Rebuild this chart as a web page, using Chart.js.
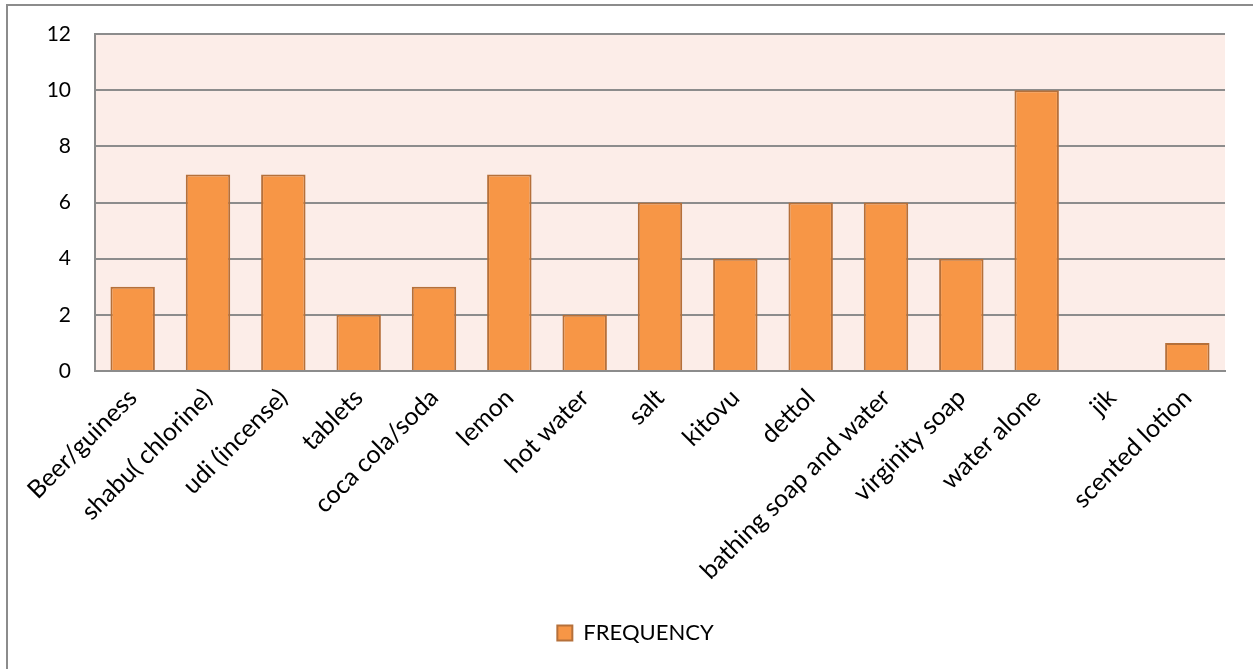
<!DOCTYPE html>
<html>
<head>
<meta charset="utf-8">
<script src="https://cdn.jsdelivr.net/npm/chart.js@4.4.1/dist/chart.umd.min.js"></script>
<style>
  html, body { margin: 0; padding: 0; background: #fff; }
  #wrap { position: relative; width: 1253px; height: 669px; overflow: hidden; }
  #frame { position: absolute; left: 6px; top: 4px; width: 1260px; height: 700px; border: 2px solid #8c8c8c; box-sizing: border-box; }
  canvas { position: absolute; left: 0; top: 0; }
</style>
</head>
<body>
<div id="wrap">
  <div id="frame"></div>
  <canvas id="c" width="1253" height="669"></canvas>
</div>
<script>
const categories = ["Beer/guiness", "shabu( chlorine)", "udi (incense)", "tablets", "coca cola/soda", "lemon", "hot water", "salt", "kitovu", "dettol", "bathing soap and water", "virginity soap", "water alone", "jik", "scented lotion"];
const frequency = [3, 7, 7, 2, 3, 7, 2, 6, 4, 6, 6, 4, 10, 0, 1];
const seriesName = "FREQUENCY";
const yMin = 0, yMax = 12, yStep = 2;

const plotBg = {
  id: 'plotBg',
  beforeDraw(chart) {
    const { ctx, chartArea: a } = chart;
    ctx.save();
    ctx.fillStyle = '#FCEDE8';
    ctx.fillRect(a.left, a.top, a.right - a.left, a.bottom - a.top);
    ctx.restore();
  }
};

const legendShift = {
  id: 'legendShift',
  afterLayout(chart) {
    const lg = chart.legend;
    if (lg) { lg.left += 23; lg.right += 23; }
  }
};

const FONT = "Lato, 'Liberation Sans', sans-serif";

new Chart(document.getElementById('c'), {
  type: 'bar',
  data: {
    labels: categories,
    datasets: [{
      label: seriesName,
      data: frequency,
      backgroundColor: '#F79646',
      borderColor: '#B5703A',
      borderWidth: 2,
      categoryPercentage: 1.0,
      barPercentage: 0.59
    }]
  },
  options: {
    responsive: false,
    animation: false,
    devicePixelRatio: 1,
    layout: { padding: { left: 0, right: 28, top: 34, bottom: 15 } },
    plugins: {
      legend: {
        position: 'bottom',
        labels: {
          color: '#000',
          font: { family: FONT, size: 22 },
          boxWidth: 15, boxHeight: 15,
          padding: 10
        }
      },
      tooltip: { enabled: false }
    },
    scales: {
      x: {
        grid: { display: false, drawTicks: false },
        border: { display: true, color: '#8c8c8c', width: 2 },
        ticks: {
          color: '#000',
          font: { family: FONT, size: 25 },
          maxRotation: 45, minRotation: 45,
          padding: 12,
          autoSkip: false
        },
        afterFit(s) { s.height = 241; }
      },
      y: {
        min: yMin, max: yMax,
        grid: { color: '#8c8c8c', lineWidth: 2, drawTicks: false },
        border: { display: true, color: '#8c8c8c', width: 2 },
        ticks: {
          stepSize: yStep,
          color: '#000',
          font: { family: FONT, size: 21 },
          padding: 24
        },
        afterFit(s) { s.width = 95; s.paddingTop = 10; s.paddingBottom = 10; }
      }
    }
  },
  plugins: [plotBg, legendShift]
});
</script>
</body>
</html>
